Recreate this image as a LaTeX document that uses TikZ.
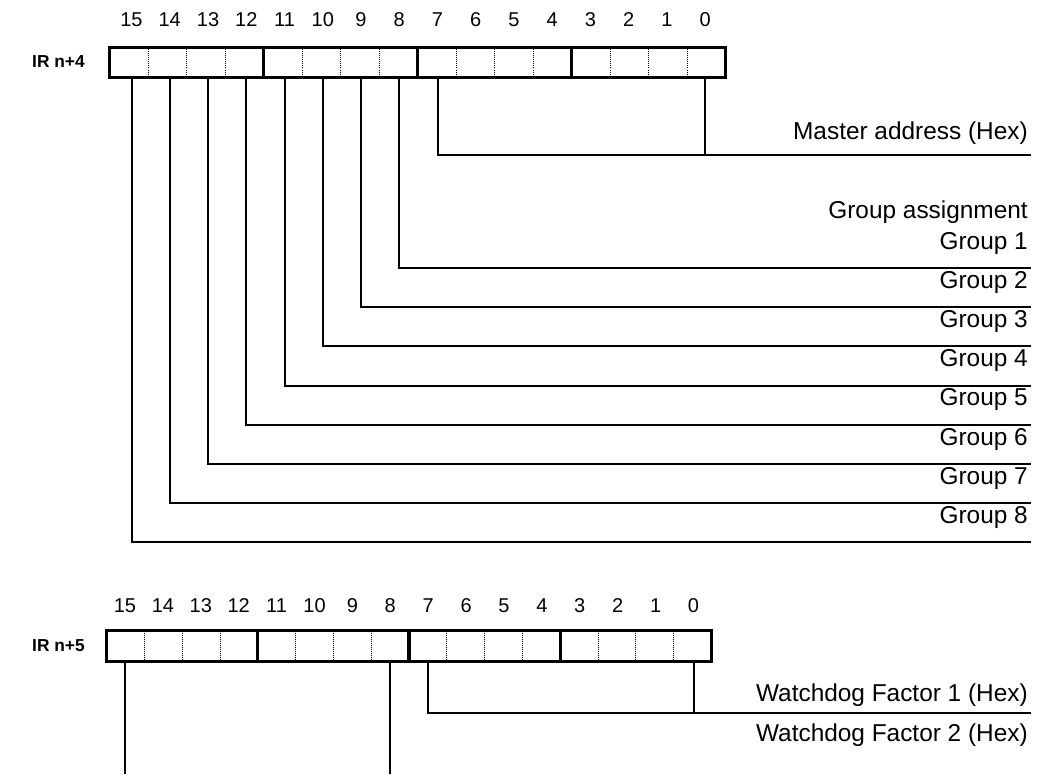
\documentclass[tikz,border=0pt]{standalone}
\usepackage{fontspec}
\setmainfont{Liberation Sans}
\begin{document}
\begin{tikzpicture}[x=0.75pt,y=-0.75pt,
  regbox/.style={line width=2.6pt},
  divthick/.style={line width=2.6pt},
  divdot/.style={line width=0.6pt,dash pattern=on 0.75pt off 0.75pt},
  lead/.style={line width=1.5pt},
  bitnum/.style={inner sep=0pt,font=\fontsize{15}{17}\selectfont},
  irlabel/.style={inner sep=0pt,anchor=east,font=\fontsize{13}{15}\selectfont\bfseries},
  desc/.style={inner sep=0pt,anchor=base east,font=\fontsize{18.3}{21}\selectfont}]
\useasboundingbox (0,0) rectangle (1037,774);

% ---------- IR n+4 ----------
\node[irlabel] (ir4) at (85,62) {IR n+4};
\draw[regbox] (109.5,47.5) rectangle (725.5,77.5);
\foreach \k in {1,2,3,5,6,7,9,10,11,13,14,15}
  \draw[divdot] ({109.5+38.5*\k},47.5) -- ({109.5+38.5*\k},77.5);
\foreach \k in {4,8,12}
  \draw[divthick] ({109.5+38.5*\k},47.5) -- ({109.5+38.5*\k},77.5);
\foreach \b in {0,...,15} {
  \node[bitnum] (tn\b) at ({131.5+38.25*(15-\b)},20) {\b};
  \coordinate (tl\b) at ({131.5+38.25*(15-\b)},79);
}
% master address
\coordinate (mEnd) at (1031,155);
\draw[lead] (tl7) |- (mEnd);
\draw[lead] (tl0) -- (tl0 |- mEnd);
\node[desc] (master) at (1028,139) {Master address (Hex)};
% group assignment
\node[desc] (gassign) at (1028,218) {Group assignment};
\foreach \g/\b in {1/8,2/9,3/10,4/11,5/12,6/13,7/14,8/15} {
  \coordinate (gEnd\g) at (1031,{268+39.2*(\g-1)});
  \draw[lead] (tl\b) |- (gEnd\g);
  \node[desc] (grp\g) at (1028,{249+39.2*(\g-1)}) {Group \g};
}

% ---------- IR n+5 ----------
\node[irlabel] (ir5) at (85,646) {IR n+5};
\draw[regbox] (106.5,630.5) rectangle (711.5,661.5);
\foreach \k in {1,2,3,5,6,7,9,10,11,13,14,15}
  \draw[divdot] ({106.5+37.8125*\k},630.5) -- ({106.5+37.8125*\k},661.5);
\foreach \k in {4,8,12}
  \draw[divthick] ({106.5+37.8125*\k},630.5) -- ({106.5+37.8125*\k},661.5);
\foreach \b in {0,...,15} {
  \node[bitnum] (bn\b) at ({125+37.9*(15-\b)},606) {\b};
  \coordinate (bl\b) at ({125+37.9*(15-\b)},662);
}
\coordinate (wEnd) at (1031,713);
\draw[lead] (bl7) |- (wEnd);
\draw[lead] (bl0) -- (bl0 |- wEnd);
\node[desc] (wd1) at (1028,701) {Watchdog Factor 1 (Hex)};
\node[desc] (wd2) at (1028,741) {Watchdog Factor 2 (Hex)};
\coordinate (bEnd15) at (bl15 |- 0,774);
\coordinate (bEnd8) at (bl8 |- 0,774);
\draw[lead] (bl15) -- (bEnd15);
\draw[lead] (bl8) -- (bEnd8);
\end{tikzpicture}
\end{document}
